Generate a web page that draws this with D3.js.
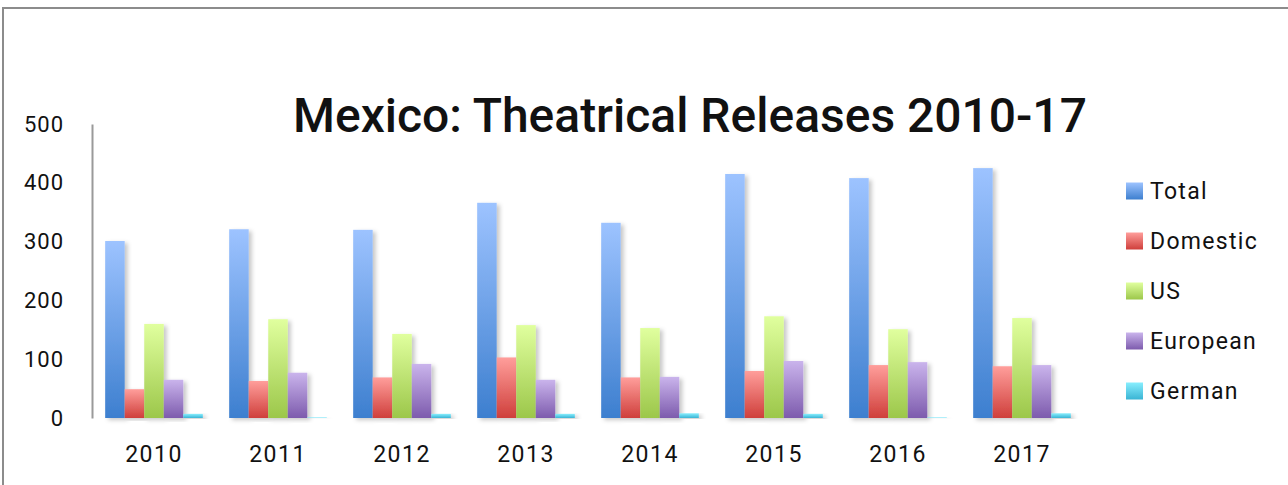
<!DOCTYPE html>
<html>
<head>
<meta charset="utf-8">
<script src="https://cdn.jsdelivr.net/npm/d3@7"></script>
<style>
  html, body { margin: 0; padding: 0; background: #fff; }
  svg { display: block; }
  text { font-family: Roboto, "DejaVu Sans", sans-serif; fill: #111; }
</style>
</head>
<body>
<svg id="chart" width="1288" height="485"></svg>
<script>
const years = ["2010","2011","2012","2013","2014","2015","2016","2017"];
const seriesNames = ["Total","Domestic","US","European","German"];
const total    = [301, 321, 320, 366, 332, 415, 408, 425];
const domestic = [49, 63, 69, 103, 69, 80, 90, 88];
const us       = [160, 168, 143, 158, 153, 173, 151, 170];
const european = [65, 77, 92, 65, 70, 97, 95, 90];
const german   = [7, 1, 7, 7, 8, 7, 1, 8];
const yTicks = [0, 100, 200, 300, 400, 500];
const titleText = "Mexico: Theatrical Releases 2010-17";

const seriesValues = [total, domestic, us, european, german];
const gradColors = [
  ["#9dc3ff", "#3d7fcf"],
  ["#ff9e9b", "#cf3f3b"],
  ["#e0ff9e", "#9cc74a"],
  ["#cab4ec", "#7d5bad"],
  ["#88eefe", "#3ab4d4"]
];

const svg = d3.select("#chart");
const defs = svg.append("defs");
gradColors.forEach((c, i) => {
  const g = defs.append("linearGradient")
    .attr("id", "grad" + i).attr("x1", 0).attr("y1", 0).attr("x2", 0).attr("y2", 1);
  g.append("stop").attr("offset", "0%").attr("stop-color", c[0]);
  g.append("stop").attr("offset", "100%").attr("stop-color", c[1]);
});
const f = defs.append("filter").attr("id", "shadow")
  .attr("x", "-20%").attr("y", "-5%").attr("width", "160%").attr("height", "115%");
f.append("feDropShadow").attr("dx", 3).attr("dy", 2).attr("stdDeviation", 2)
  .attr("flood-color", "#000").attr("flood-opacity", 0.22);

// frame
svg.append("path").attr("d", "M3,485 L3,8 L1288,8")
  .attr("fill", "none").attr("stroke", "#8c8c8c").attr("stroke-width", 2);

const plotLeft = 92, plotRight = 1084, plotTop = 124, plotBottom = 418;

const x0 = d3.scaleBand().domain(years).range([plotLeft, plotRight])
  .paddingInner(0.2125).paddingOuter(0.10625);
const x1 = d3.scaleBand().domain(seriesNames).range([0, x0.bandwidth()]).padding(0);
const y = d3.scaleLinear().domain([0, 500]).range([plotBottom, plotTop]);

// x axis line with shadow
svg.append("line")
  .attr("x1", plotLeft).attr("x2", plotRight).attr("y1", plotBottom + 1).attr("y2", plotBottom + 1)
  .attr("stroke", "#999").attr("stroke-width", 2).attr("filter", "url(#shadow)");

// bars
const groups = svg.append("g").selectAll("g").data(years).join("g")
  .attr("transform", d => `translate(${x0(d)},0)`);
groups.selectAll("rect")
  .data((d, i) => seriesNames.map((s, j) => ({ s, j, v: seriesValues[j][i] })))
  .join("rect")
  .attr("x", d => x1(d.s))
  .attr("y", d => y(d.v))
  .attr("width", x1.bandwidth())
  .attr("height", d => y(0) - y(d.v))
  .attr("fill", d => `url(#grad${d.j})`)
  .attr("filter", "url(#shadow)");

// y axis
const yAxis = svg.append("g").attr("transform", `translate(${plotLeft},0)`)
  .call(d3.axisLeft(y).tickValues(yTicks).tickSize(0).tickSizeOuter(0).tickPadding(28));
yAxis.select(".domain").attr("stroke", "#9a9a9a").attr("stroke-width", 2);
yAxis.selectAll("text").style("font-size", "22px").style("letter-spacing", "1px")
  .style("font-family", "Roboto, sans-serif").attr("fill", "#111");

// x axis labels
const xAxis = svg.append("g").attr("transform", `translate(0,${plotBottom})`)
  .call(d3.axisBottom(x0).tickSize(0).tickPadding(28));
xAxis.select(".domain").remove();
xAxis.selectAll("text").style("font-size", "23px").style("letter-spacing", "1.5px")
  .style("font-family", "Roboto, sans-serif").attr("fill", "#111");

// title
const title = svg.append("text").attr("x", 293).attr("y", 132)
  .style("font-size", "48px").style("font-weight", 500).text(titleText);
const tw = title.node().getComputedTextLength();
title.style("font-size", (48 * 794 / tw) + "px");

// legend
const legend = svg.append("g");
seriesNames.forEach((s, i) => {
  const cy = 191 + i * 50;
  legend.append("rect").attr("x", 1126).attr("y", cy - 8.5).attr("width", 17).attr("height", 17)
    .attr("fill", `url(#grad${i})`);
  legend.append("text").attr("x", 1150).attr("y", cy).attr("dy", "0.36em")
    .style("font-size", "23px").style("letter-spacing", "1.3px").text(s);
});
</script>
</body>
</html>
